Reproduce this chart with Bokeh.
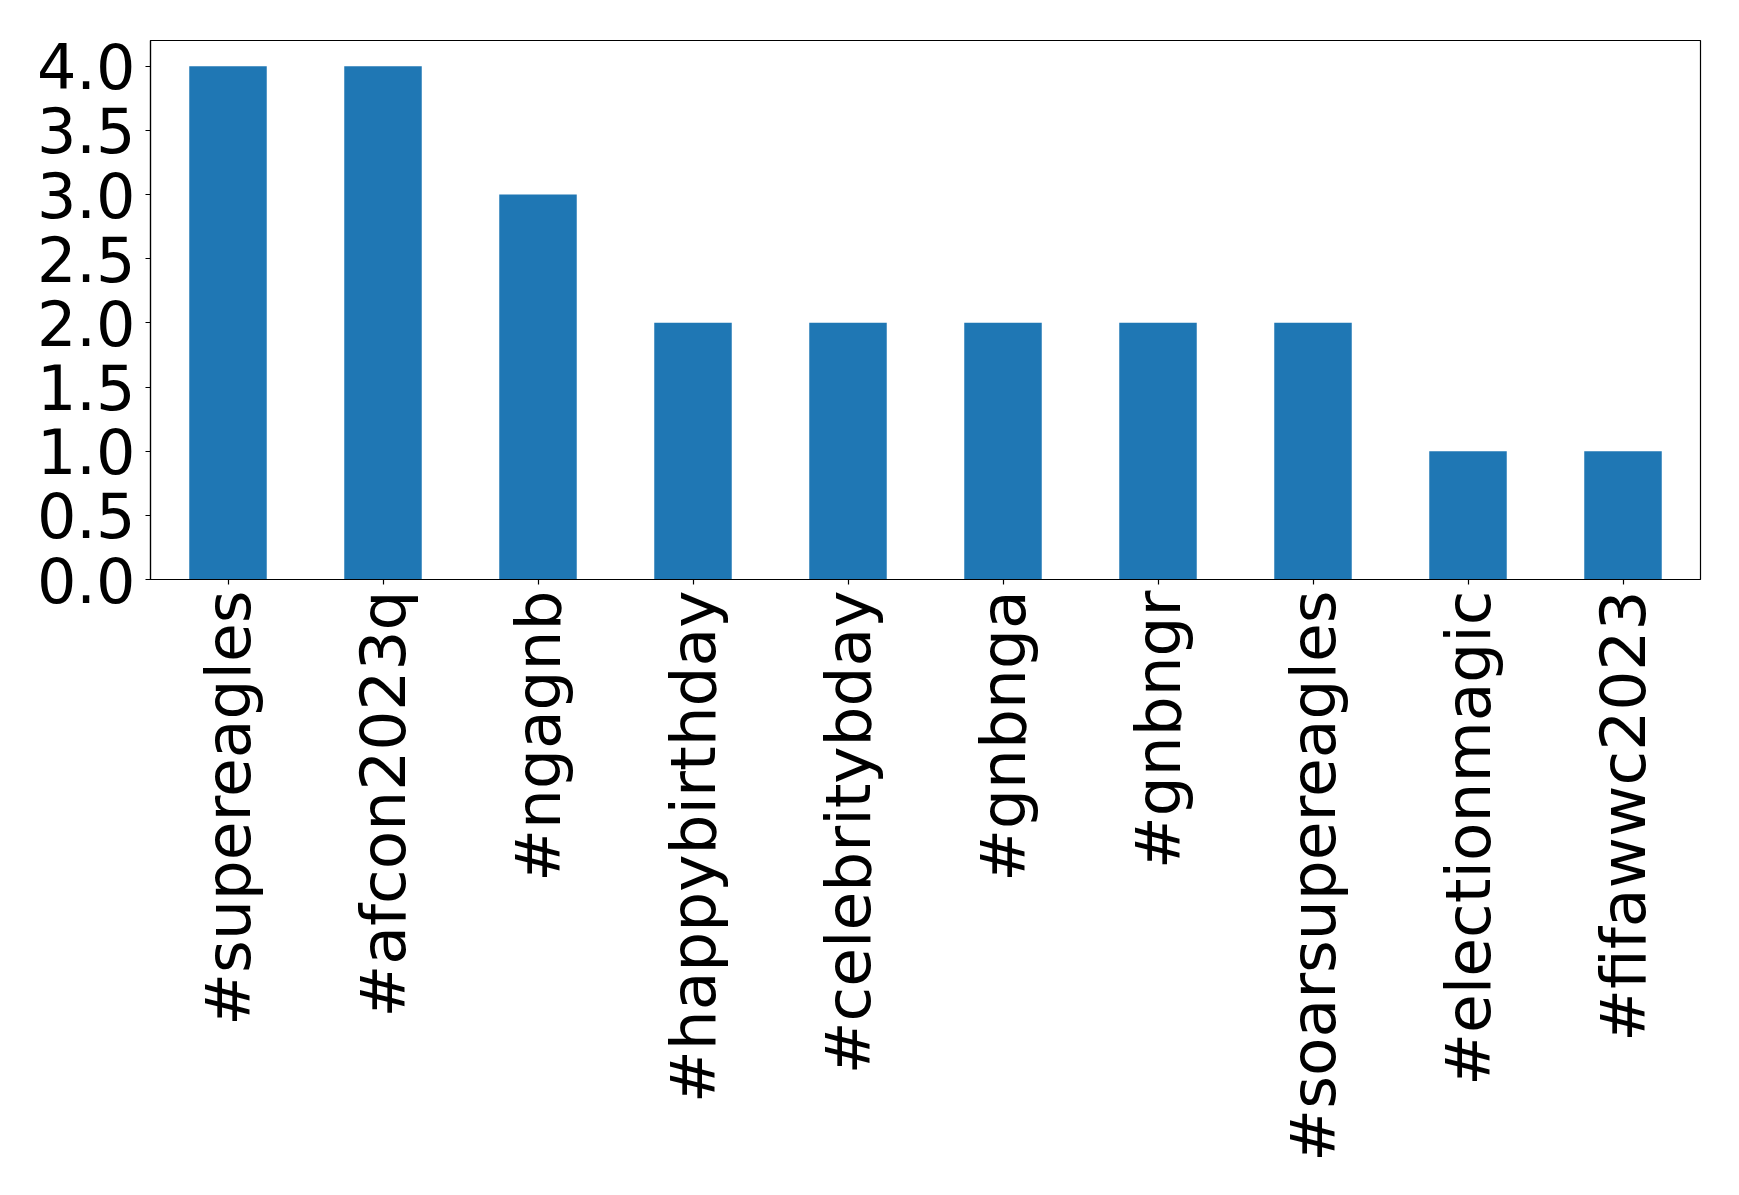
import math
from bokeh.plotting import figure
from bokeh.models import FactorRange, Range1d, FixedTicker, PrintfTickFormatter, ColumnDataSource
from bokeh.embed import file_html
from bokeh.resources import INLINE

tags = ["#supereagles", "#afcon2023q", "#ngagnb", "#happybirthday", "#celebritybday",
        "#gnbnga", "#gnbngr", "#soarsupereagles", "#electionmagic", "#fifawwc2023"]
counts = [4, 4, 3, 2, 2, 2, 2, 2, 1, 1]
y_ticks = [0.0, 0.5, 1.0, 1.5, 2.0, 2.5, 3.0, 3.5, 4.0]

src = ColumnDataSource(dict(tag=tags, count=counts))

p = figure(x_range=FactorRange(*tags), y_range=Range1d(0, 4.2),
           frame_width=1550, frame_height=539,
           min_border_left=150, min_border_right=31, min_border_top=40, min_border_bottom=600,
           output_backend="svg", toolbar_location=None)

p.vbar(x="tag", top="count", width=0.5, source=src, fill_color="#1f77b4", line_color=None)

p.xgrid.visible = False
p.ygrid.visible = False
p.outline_line_color = "black"
p.outline_line_width = 1.2
p.background_fill_color = "white"
p.border_fill_color = "white"

for ax in (p.xaxis[0], p.yaxis[0]):
    ax.axis_line_color = "black"
    ax.axis_line_width = 1.2
    ax.major_tick_line_color = "black"
    ax.major_tick_line_width = 1.2
    ax.major_tick_out = 5
    ax.major_tick_in = 0
    ax.minor_tick_line_color = None
    ax.major_label_text_font = "DejaVu Sans"
    ax.major_label_text_color = "black"

p.yaxis.major_label_text_font_size = "62px"
p.xaxis.major_label_text_font_size = "63px"
p.yaxis.ticker = FixedTicker(ticks=y_ticks)
p.yaxis.formatter = PrintfTickFormatter(format="%.1f")
p.yaxis.major_label_standoff = 10
p.xaxis.major_label_orientation = math.pi / 2
p.xaxis.major_label_standoff = 6

open("out.html", "w").write(file_html(p, INLINE))
